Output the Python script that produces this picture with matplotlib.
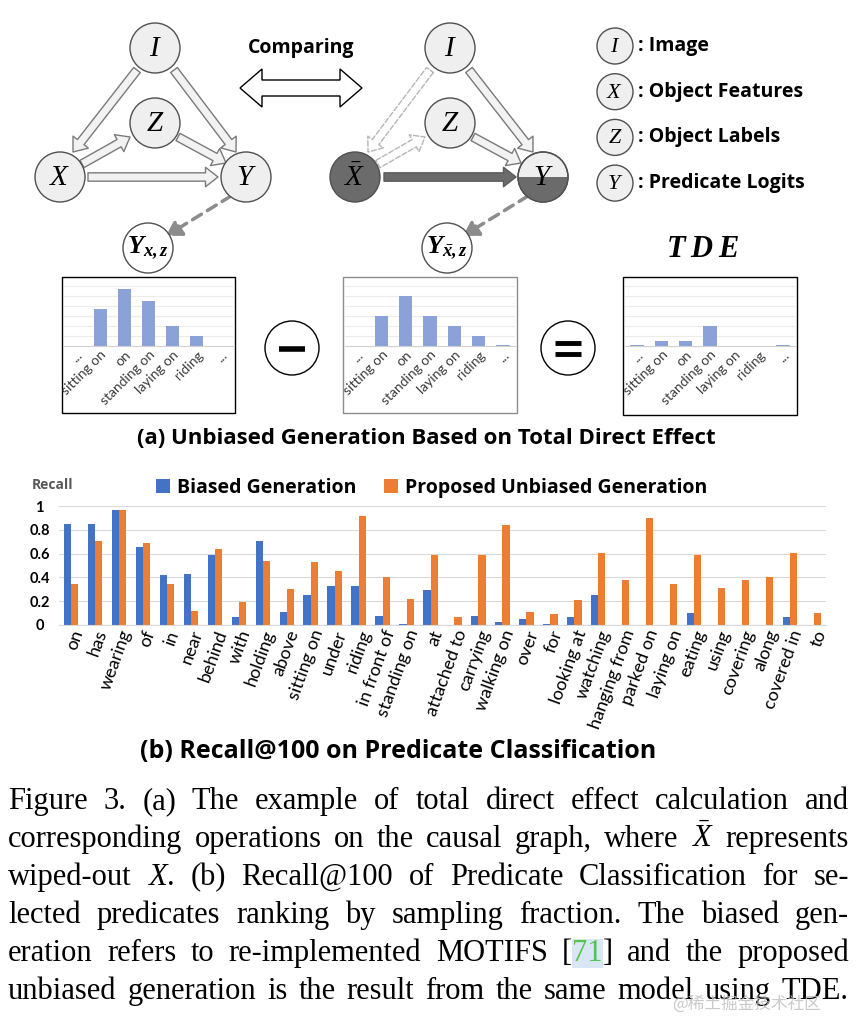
import numpy as np
import matplotlib.pyplot as plt
from matplotlib.patches import Circle, Rectangle, Polygon, FancyArrowPatch

plt.rcParams['font.family'] = ['Lato', 'DejaVu Sans']
plt.rcParams['mathtext.fontset'] = 'custom'
plt.rcParams['mathtext.rm'] = 'Liberation Serif'
plt.rcParams['mathtext.it'] = 'Liberation Serif:italic'
plt.rcParams['mathtext.bf'] = 'Liberation Serif:italic:bold'
BOLD = ['Open Sans', 'Lato', 'DejaVu Sans']

# (b) recall@100 per predicate
predicates = ['on', 'has', 'wearing', 'of', 'in', 'near', 'behind', 'with', 'holding', 'above',
              'sitting on', 'under', 'riding', 'in front of', 'standing on', 'at', 'attached to',
              'carrying', 'walking on', 'over', 'for', 'looking at', 'watching', 'hanging from',
              'parked on', 'laying on', 'eating', 'using', 'covering', 'along', 'covered in', 'to']
biased = [0.85, 0.85, 0.97, 0.655, 0.42, 0.43, 0.59, 0.07, 0.71, 0.11,
          0.25, 0.33, 0.325, 0.073, 0.005, 0.29, 0.0, 0.076, 0.028, 0.048,
          0.008, 0.067, 0.25, 0.0, 0.0, 0.0, 0.104, 0.0, 0.0, 0.0, 0.07, 0.0]
unbiased = [0.345, 0.706, 0.97, 0.69, 0.347, 0.12, 0.64, 0.196, 0.54, 0.305,
            0.527, 0.455, 0.913, 0.40, 0.22, 0.588, 0.07, 0.59, 0.84, 0.106,
            0.092, 0.207, 0.605, 0.378, 0.90, 0.345, 0.59, 0.308, 0.378, 0.40, 0.608, 0.104]
yticks = [0, 0.2, 0.4, 0.6, 0.8, 1.0]
ytick_labels = ['0', '0.2', '0.4', '0.6', '0.8', '1']

# (a) small logit charts
mini_labels = ['...', 'sitting on', 'on', 'standing on', 'laying on', 'riding', '...']
logits_xz = [0, 3.7, 5.7, 4.5, 2.0, 1.0, 0.05]
logits_xbar = [0, 3.0, 5.0, 3.0, 2.0, 1.0, 0.1]
logits_tde = [0.1, 0.5, 0.5, 2.0, 0, 0, 0.1]

legend_items = [(r'$I$', ': Image'), (r'$X$', ': Object Features'),
                (r'$Z$', ': Object Labels'), (r'$Y$', ': Predicate Logits')]

caption = [
    'Figure 3. (a) The example of total direct effect calculation and',
    r'corresponding operations on the causal graph, where $\bar{X}$ represents',
    'wiped-out $X$. (b) Recall@100 of Predicate Classification for se-',
    'lected predicates ranking by sampling fraction. The biased gen-',
    'eration refers to re-implemented MOTIFS [71] and the proposed',
    'unbiased generation is the result from the same model using TDE.',
]

W, H = 858, 1018
fig = plt.figure(figsize=(W / 100, H / 100), dpi=100)
ax0 = fig.add_axes([0, 0, 1, 1])
ax0.set_xlim(0, W)
ax0.set_ylim(H, 0)
ax0.axis('off')


def px_axes(l, t, r, b):
    return fig.add_axes([l / W, 1 - b / H, (r - l) / W, (b - t) / H])


def node(x, y, label, r=25, fc='#efefef', size=21):
    c = Circle((x, y), r, fc=fc, ec='#505050', lw=1, zorder=3)
    ax0.add_patch(c)
    ax0.text(x, y, label, fontsize=size, ha='center', va='center', zorder=5)
    return c


def fat_arrow(p0, p1, fc='#f2f2f2', ec='#7a7a7a', ls='-'):
    a = FancyArrowPatch(p0, p1, arrowstyle='simple,tail_width=6,head_width=14,head_length=9',
                        mutation_scale=1, fc=fc, ec=ec, lw=1, ls=ls,
                        shrinkA=0, shrinkB=0, zorder=2)
    ax0.add_patch(a)


def dash_arrow(p0, p1):
    a = FancyArrowPatch(p0, p1, arrowstyle='-|>,head_length=0.5,head_width=0.3',
                        mutation_scale=18, color='#8c8c8c', lw=2.5, ls=(0, (3, 2)),
                        shrinkA=0, shrinkB=0, zorder=2)
    ax0.add_patch(a)


# ---- left causal graph
node(155, 48, r'$I$')
node(155, 123, r'$Z$')
node(60, 177, r'$X$')
node(246, 177, r'$Y$')
node(148, 248, r'$\mathbf{Y_{x,z}}$', fc='white', size=19)
fat_arrow((137, 70), (73, 152))
fat_arrow((174, 70), (236, 152))
fat_arrow((82, 164), (130, 137))
fat_arrow((178, 137), (226, 163))
fat_arrow((88, 177), (218, 177))
dash_arrow((231, 196), (166, 236))

# ---- comparing arrow
ax0.text(301, 48, 'Comparing', fontsize=14, fontweight='bold', family=BOLD,
         ha='center', va='center')
ax0.add_patch(Polygon([(240, 88), (262, 69), (262, 80), (340, 80), (340, 69), (362, 88),
                       (340, 107), (340, 96), (262, 96), (262, 107)],
                      closed=True, fc='white', ec='black', lw=1))

# ---- right causal graph
node(450, 48, r'$I$')
node(450, 123, r'$Z$')
node(355, 177, r'$\bar{X}$', fc='#6b6b6b')
yc = node(543, 177, r'$Y$')
half = Rectangle((515, 177), 56, 30, fc='#6b6b6b', ec='none', zorder=3.5)
ax0.add_patch(half)
half.set_clip_path(yc)
ax0.add_patch(Circle((543, 177), 25, fc='none', ec='#505050', lw=1, zorder=4))
node(447, 248, r'$\mathbf{Y_{\bar{x},z}}$', fc='white', size=19)
fat_arrow((430, 70), (368, 152), fc='white', ec='#b5b5b5', ls='--')
fat_arrow((378, 164), (425, 137), fc='white', ec='#b5b5b5', ls='--')
fat_arrow((469, 70), (533, 152))
fat_arrow((473, 137), (521, 163))
fat_arrow((384, 177), (516, 177), fc='#6b6b6b', ec='#5a5a5a')
dash_arrow((528, 196), (463, 236))

# ---- legend of node meanings
for i, (sym, txt) in enumerate(legend_items):
    yy = 46 + i * 45.7
    node(615, yy, sym, r=18, size=16)
    ax0.text(638, yy, txt, fontsize=14, fontweight='bold', family=BOLD,
             ha='left', va='center')

ax0.text(703, 248, r'$\mathbf{T\;D\;E}$', fontsize=22, ha='center', va='center')

# ---- small logit charts
def mini_chart(box, vals, edge):
    l, t, r, b = box
    ax0.add_patch(Rectangle((l, t), r - l, b - t, fc='white', ec=edge, lw=1, zorder=1))
    a = px_axes(l + 2, 283, r - 2, 346)
    xs = np.arange(len(vals))
    a.bar(xs, vals, 0.55, color='#8aa2d8')
    a.set_xlim(-0.5, len(vals) - 0.5)
    a.set_ylim(0, 6.3)
    a.set_yticks(range(1, 7))
    a.yaxis.grid(True, color='#ececec', lw=0.8)
    a.set_axisbelow(True)
    for s in ['top', 'right', 'left']:
        a.spines[s].set_visible(False)
    a.spines['bottom'].set_color('#d0d0d0')
    a.tick_params(length=0, labelleft=False, pad=2)
    a.set_xticks(xs)
    a.set_xticklabels(mini_labels, rotation=45, ha='right', rotation_mode='anchor',
                      fontsize=10, color='#3a3a3a')
    a.patch.set_alpha(0)


mini_chart((62, 277, 235, 413), logits_xz, 'black')
mini_chart((343, 277, 517, 413), logits_xbar, '#8c8c8c')
mini_chart((623, 277, 797, 415), logits_tde, 'black')

ax0.add_patch(Circle((292, 348), 27, fc='white', ec='black', lw=1))
ax0.plot([279, 305], [349, 349], color='black', lw=4, solid_capstyle='butt')
ax0.add_patch(Circle((568, 348), 27, fc='white', ec='black', lw=1))
ax0.plot([555, 581], [343, 343], color='black', lw=3.5, solid_capstyle='butt')
ax0.plot([555, 581], [354, 354], color='black', lw=3.5, solid_capstyle='butt')

ax0.text(426, 438, '(a) Unbiased Generation Based on Total Direct Effect',
         fontsize=16, fontweight='bold', family=BOLD, ha='center', va='center')

# ---- (b) recall chart
ax = px_axes(59, 506, 826, 625)
x = np.arange(len(predicates))
w = 0.3
ax.bar(x - w / 2, biased, w, color='#4472C4', label='Biased Generation')
ax.bar(x + w / 2, unbiased, w, color='#ED7D31', label='Proposed Unbiased Generation')
ax.set_xlim(-0.5, len(predicates) - 0.5)
ax.set_ylim(0, 1)
ax.set_yticks(yticks)
ax.set_yticklabels(ytick_labels, fontsize=10.5, fontweight='bold')
for lab in ax.get_yticklabels():
    lab.set_ha('center')
ax.yaxis.grid(True, color='#d9d9d9', lw=0.8)
ax.set_axisbelow(True)
for s in ['top', 'right', 'left']:
    ax.spines[s].set_visible(False)
ax.spines['bottom'].set_color('#d9d9d9')
ax.tick_params(axis='y', length=0, pad=14)
ax.tick_params(axis='x', length=0, pad=2)
ax.set_xticks(x)
ax.set_xticklabels(predicates, rotation=70, ha='right', rotation_mode='anchor', fontsize=13)
ax.legend(loc='center', bbox_to_anchor=(0.486, 1.155), ncol=2, frameon=False,
          handlelength=0.7, handleheight=0.7, handletextpad=0.4, columnspacing=1.4,
          prop={'weight': 'bold', 'size': 14, 'family': BOLD})
ax0.text(32, 485, 'Recall', fontsize=10, fontweight='bold', family=BOLD, color='#595959',
         ha='left', va='center')

ax0.text(398, 752, '(b) Recall@100 on Predicate Classification',
         fontsize=18, fontweight='bold', family=BOLD, ha='center', va='center')

# ---- caption, justified
renderer = fig.canvas.get_renderer()


def segments(word):
    if word == '[71]':
        return [('[', 'black', None), ('71', '#52c452', dict(fc='#d9e7f5', ec='none', pad=0.3)),
                (']', 'black', None)]
    return [(word, 'black', None)]


def justify(line, ybase, size, x0=8, x1=849):
    words = line.split(' ')
    groups = []
    total = 0
    for wd in words:
        grp = []
        gw = 0
        for s, col, bb in segments(wd):
            t = ax0.text(0, ybase, s, fontsize=size, family='Liberation Serif', color=col,
                         va='baseline', ha='left', bbox=bb)
            tw = t.get_window_extent(renderer).width
            grp.append((t, gw))
            gw += tw
        groups.append((grp, gw))
        total += gw
    gap = (x1 - x0 - total) / (len(words) - 1)
    xpos = x0
    for grp, gw in groups:
        for t, off in grp:
            t.set_x(xpos + off)
        xpos += gw + gap
    return gap


# pick a size so each line keeps at least a thin space between words
size = 22
for line in caption:
    tmp = ax0.text(0, 0, line.replace(' ', ''), fontsize=22, family='Liberation Serif')
    wd = tmp.get_window_extent(renderer).width
    tmp.remove()
    need = wd + 0.12 * 30 * (len(line.split(' ')) - 1)
    size = min(size, 22 * 841 / need)

for i, line in enumerate(caption):
    justify(line, 809 + i * 38, size)

ax0.text(672, 1004, '@稀土掘金技术社区', fontsize=12, color='#bdbdbd', alpha=0.8,
         family=['Noto Sans CJK SC', 'DejaVu Sans'], ha='left', va='center', zorder=10)

fig.savefig('out.png', dpi=100)
